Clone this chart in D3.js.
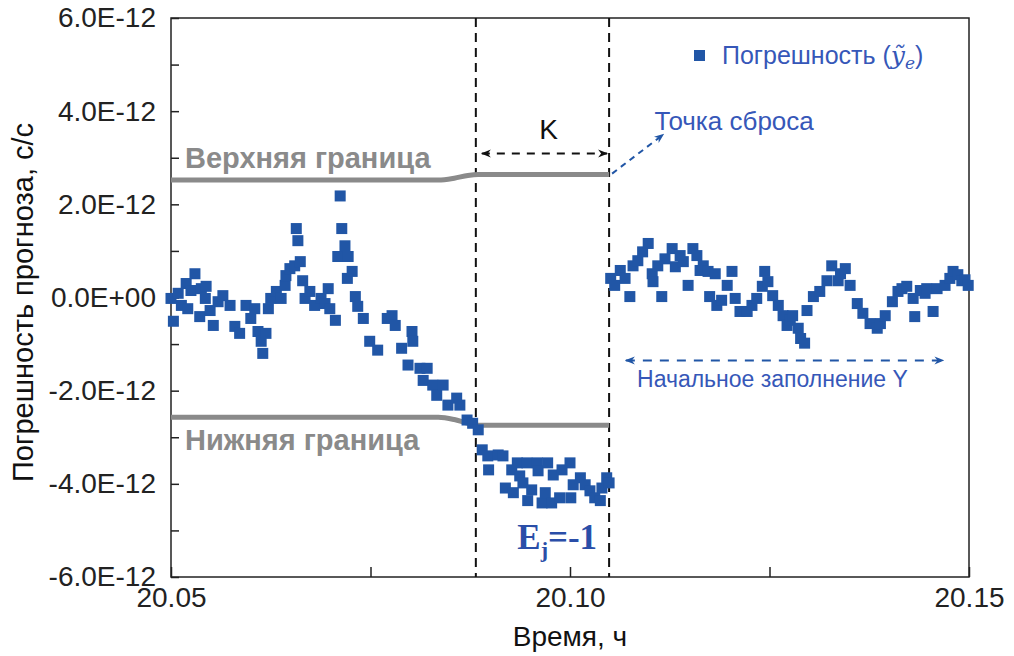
<!DOCTYPE html>
<html lang="ru">
<head>
<meta charset="UTF-8">
<title>Погрешность прогноза</title>
<script src="https://d3js.org/d3.v7.min.js"></script>
<style>
  body { margin: 0; background: #fff; }
  svg { display: block; font-family: "Liberation Sans", Arial, sans-serif; }
  .tick text { font-size: 28px; fill: #222; }
  .tick line { stroke: #222; stroke-width: 1.5; }
  .domain { display: none; }
</style>
</head>
<body>
<svg width="1014" height="656"></svg>
<script>
// error values are in units of 1E-12 s/s
const times = [
  20.0500, 20.0503, 20.0509, 20.0513, 20.0519, 20.0521, 20.0525, 20.0530, 20.0536, 20.0538,
  20.0543, 20.0544, 20.0549, 20.0553, 20.0559, 20.0565, 20.0574, 20.0580, 20.0586, 20.0594,
  20.0600, 20.0605, 20.0609, 20.0613, 20.0615, 20.0619, 20.0622, 20.0625, 20.0632, 20.0638,
  20.0643, 20.0644, 20.0649, 20.0655, 20.0657, 20.0659, 20.0662, 20.0665, 20.0668, 20.0674,
  20.0680, 20.0688, 20.0693, 20.0697, 20.0699, 20.0706, 20.0709, 20.0712, 20.0714, 20.0718,
  20.0721, 20.0722, 20.0727, 20.0731, 20.0734, 20.0741, 20.0749, 20.0759, 20.0771, 20.0777,
  20.0781, 20.0789, 20.0797, 20.0802, 20.0803, 20.0812, 20.0816, 20.0821, 20.0828, 20.0833,
  20.0841, 20.0847, 20.0858, 20.0862, 20.0871, 20.0878, 20.0885,
  // window K
  20.0890, 20.0897, 20.0898, 20.0910, 20.0916, 20.0919, 20.0927, 20.0929, 20.0934, 20.0937,
  20.0941, 20.0946, 20.0947, 20.0952, 20.0959, 20.0960, 20.0965, 20.0969, 20.0972, 20.0977,
  20.0979, 20.0987, 20.0990, 20.1000, 20.1001, 20.1004, 20.1013, 20.1019, 20.1025, 20.1031,
  20.1038, 20.1040, 20.1046, 20.1049,
  // after reset
  20.1051, 20.1056, 20.1063, 20.1069, 20.1075, 20.1079, 20.1085, 20.1091, 20.1098, 20.1103,
  20.1104, 20.1110, 20.1115, 20.1119, 20.1128, 20.1132, 20.1138, 20.1142, 20.1148, 20.1154,
  20.1159, 20.1163, 20.1167, 20.1173, 20.1175, 20.1182, 20.1184, 20.1190, 20.1197, 20.1203,
  20.1207, 20.1213, 20.1222, 20.1228, 20.1234, 20.1241, 20.1244, 20.1248, 20.1254, 20.1261,
  20.1267, 20.1272, 20.1276, 20.1279, 20.1286, 20.1289, 20.1294, 20.1297, 20.1305, 20.1313,
  20.1322, 20.1328, 20.1336, 20.1339, 20.1345, 20.1351, 20.1360, 20.1367, 20.1376, 20.1385,
  20.1389, 20.1395, 20.1404, 20.1411, 20.1416, 20.1422, 20.1430, 20.1432, 20.1439, 20.1445,
  20.1447, 20.1455, 20.1460, 20.1470, 20.1476, 20.1480, 20.1486, 20.1491, 20.1495, 20.1499
];
const errors = [
  -0.02, -0.51, 0.09, -0.17, 0.30, -0.24, 0.15, 0.51, -0.41, 0.19,
  -0.02, 0.24, -0.28, -0.60, -0.09, 0.04, -0.17, -0.62, -0.77, -0.17,
  -0.45, -0.24, -0.73, -0.94, -1.20, -0.77, -0.24, -0.02, 0.13, -0.02,
  0.26, 0.47, 0.62, 0.68, 1.48, 1.22, 0.77, 0.36, -0.02, 0.13,
  -0.17, -0.02, -0.13, 0.19, -0.24, -0.49, 0.88, 2.18, 1.48, 1.11,
  0.41, 0.88, 0.56, 0.02, -0.19, -0.45, -0.94, -1.13, -0.45, -0.39,
  -0.60, -1.09, -1.45, -0.73, -0.94, -1.52, -1.78, -1.52, -1.88, -2.10,
  -1.88, -2.31, -2.16, -2.31, -2.63, -2.70, -2.84,
  -3.27, -3.40, -3.70, -3.38, -3.40, -4.09, -3.70, -4.19, -3.55, -3.83,
  -3.98, -3.55, -4.36, -4.13, -3.55, -3.72, -4.41, -4.19, -3.55, -4.41,
  -3.81, -4.30, -3.70, -3.55, -4.30, -4.02, -3.87, -4.02, -4.15, -4.30,
  -4.36, -4.09, -3.87, -3.98,
  0.41, 0.26, 0.58, 0.41, 0.02, 0.68, 0.79, 0.98, 1.16, 0.51,
  0.34, 0.68, 0.02, 0.83, 1.05, 0.66, 0.90, 0.77, 0.26, 1.05,
  0.90, 0.58, 0.68, 0.56, 0.02, 0.51, -0.17, -0.06, 0.26, 0.56,
  -0.02, -0.30, -0.30, -0.17, -0.02, 0.24, 0.56, 0.34, 0.04, -0.17,
  -0.39, -0.60, -0.49, -0.39, -0.66, -0.88, -0.98, -0.28, 0.02, 0.13,
  0.36, 0.68, 0.36, 0.51, 0.62, 0.26, -0.13, -0.34, -0.56, -0.66,
  -0.56, -0.39, -0.09, 0.13, 0.19, 0.24, -0.02, -0.41, 0.15, 0.09,
  0.19, -0.30, 0.19, 0.26, 0.41, 0.56, 0.49, 0.36, 0.38, 0.26
];

// control limits
const boundTimes = [20.05, 20.0835, 20.0855, 20.0872, 20.0885, 20.1049];
const upperBound = [2.52, 2.52, 2.56, 2.62, 2.64, 2.64];
const lowerBound = [-2.57, -2.57, -2.62, -2.70, -2.74, -2.74];

const kStart = 20.0882, resetTime = 20.1049;
const xTicks = [20.05, 20.10, 20.15];
const xMinor = [20.075, 20.125];
const yTicks = [-6, -4, -2, 0, 2, 4, 6];
const yMinor = [-5, -3, -1, 1, 3, 5];

const blue = "#2156a6", grey = "#8a8a8a", textBlue = "#3657b8";

const svg = d3.select("svg"),
      margin = { top: 18, right: 45, bottom: 79, left: 171 },
      width = +svg.attr("width") - margin.left - margin.right,
      height = +svg.attr("height") - margin.top - margin.bottom,
      g = svg.append("g").attr("transform", `translate(${margin.left},${margin.top})`);

const x = d3.scaleLinear().domain([20.05, 20.15]).range([0, width]);
const y = d3.scaleLinear().domain([-6, 6]).range([height, 0]);

const fmtY = d => d === 0 ? "0.0E+00" : (d < 0 ? "-" : "") + Math.abs(d).toFixed(1) + "E-12";

// axes, ticks pointing inward
g.append("g")
    .attr("transform", `translate(0,${height})`)
    .call(d3.axisBottom(x).tickValues(xTicks).tickSize(-10).tickPadding(10).tickFormat(d3.format(".2f")));
g.append("g")
    .attr("transform", `translate(0,${height})`)
    .call(d3.axisBottom(x).tickValues(xMinor).tickSize(-10).tickFormat(""));
g.append("g")
    .call(d3.axisLeft(y).tickValues(yTicks).tickSize(-8).tickPadding(15).tickFormat(fmtY));
g.append("g")
    .call(d3.axisLeft(y).tickValues(yMinor).tickSize(-8).tickFormat(""));

g.append("rect")
    .attr("width", width).attr("height", height)
    .attr("fill", "none").attr("stroke", "#222").attr("stroke-width", 1.5);

// dashed verticals
g.selectAll(".vline")
    .data([kStart, resetTime])
    .enter().append("line")
    .attr("x1", d => x(d)).attr("x2", d => x(d))
    .attr("y1", 0).attr("y2", height)
    .attr("stroke", "#111").attr("stroke-width", 2)
    .attr("stroke-dasharray", "9,6");

// bounds
const boundLine = vals => d3.line()
    .x((d, i) => x(boundTimes[i]))
    .y(d => y(d))
    .curve(d3.curveMonotoneX)(vals);
[upperBound, lowerBound].forEach(vals => {
  g.append("path").attr("d", boundLine(vals))
      .attr("fill", "none").attr("stroke", grey).attr("stroke-width", 5);
});

// points
const pts = times.map((t, i) => ({ t, e: errors[i] }));
const sz = 11;
g.selectAll(".pt")
    .data(pts)
    .enter().append("rect")
    .attr("x", d => x(d.t) - sz / 2)
    .attr("y", d => y(d.e) - sz / 2)
    .attr("width", sz).attr("height", sz)
    .attr("fill", blue);

// arrow markers
const defs = svg.append("defs");
function marker(id, color) {
  defs.append("marker").attr("id", id)
      .attr("viewBox", "0 0 10 10").attr("refX", 9).attr("refY", 5)
      .attr("markerWidth", 5).attr("markerHeight", 5).attr("orient", "auto-start-reverse")
      .attr("markerUnits", "strokeWidth")
      .append("path").attr("d", "M0,1 L10,5 L0,9 L3,5 Z").attr("fill", color);
}
marker("arrK", "#111");
marker("arrB", blue);

// K span arrow
g.append("line")
    .attr("x1", x(kStart) + 6).attr("x2", x(resetTime) - 2)
    .attr("y1", y(3.09)).attr("y2", y(3.09))
    .attr("stroke", "#111").attr("stroke-width", 2).attr("stroke-dasharray", "8,7")
    .attr("marker-start", "url(#arrK)").attr("marker-end", "url(#arrK)");
g.append("text")
    .attr("x", (x(kStart) + x(resetTime)) / 2 + 6).attr("y", y(3.4))
    .attr("text-anchor", "middle").attr("font-size", 28).attr("fill", "#111").text("K");

// reset arrow
g.append("line")
    .attr("x1", x(resetTime) + 3).attr("y1", y(2.66))
    .attr("x2", x(20.1117)).attr("y2", y(3.5))
    .attr("stroke", blue).attr("stroke-width", 2).attr("stroke-dasharray", "6,5")
    .attr("marker-end", "url(#arrB)");
g.append("text")
    .attr("x", x(20.1106)).attr("y", y(3.6))
    .attr("font-size", 26).attr("fill", textBlue).text("Точка сброса");

// bound labels
g.append("text").attr("x", 14).attr("y", y(2.77))
    .attr("font-size", 29).attr("font-weight", "bold").attr("fill", grey).text("Верхняя граница");
g.append("text").attr("x", 14).attr("y", y(-3.27))
    .attr("font-size", 29).attr("font-weight", "bold").attr("fill", grey).text("Нижняя граница");

// initial fill span
g.append("line")
    .attr("x1", x(20.1070)).attr("x2", x(20.1468))
    .attr("y1", y(-1.35)).attr("y2", y(-1.35))
    .attr("stroke", blue).attr("stroke-width", 2).attr("stroke-dasharray", "9,8")
    .attr("marker-start", "url(#arrB)").attr("marker-end", "url(#arrB)");
g.append("text")
    .attr("x", x(20.1084)).attr("y", y(-1.93))
    .attr("font-size", 23).attr("fill", textBlue).text("Начальное заполнение Y");

// E_j = -1
const ej = g.append("text")
    .attr("x", x(20.0934)).attr("y", y(-5.4))
    .attr("font-family", "'Liberation Serif', 'Times New Roman', serif")
    .attr("font-size", 35).attr("font-weight", "bold").attr("fill", "#2a4ea8");
ej.append("tspan").text("E");
ej.append("tspan").attr("dy", 8).attr("font-size", 22).text("j");
ej.append("tspan").attr("dy", -8).text("=-1");

// legend
g.append("rect")
    .attr("x", 523).attr("y", 32).attr("width", 11).attr("height", 11).attr("fill", blue);
const leg = g.append("text")
    .attr("x", 551).attr("y", 46).attr("font-size", 25).attr("fill", textBlue);
leg.append("tspan").text("Погрешность (");
leg.append("tspan").attr("font-family", "'DejaVu Serif', serif").attr("font-style", "italic").text("ỹ");
leg.append("tspan").attr("font-family", "'DejaVu Serif', serif").attr("font-style", "italic")
    .attr("font-size", 17).attr("dy", 5).text("e");
leg.append("tspan").attr("dy", -5).text(")");

// axis titles
svg.append("text")
    .attr("transform", `translate(33,${margin.top + height / 2 + 5}) rotate(-90)`)
    .attr("text-anchor", "middle")
    .attr("font-family", "'Liberation Sans Narrow', 'Liberation Sans', sans-serif")
    .attr("font-size", 29).attr("fill", "#111")
    .text("Погрешность прогноза, с/с");
svg.append("text")
    .attr("x", margin.left + width / 2).attr("y", 646)
    .attr("text-anchor", "middle")
    .attr("font-family", "'Liberation Sans Narrow', 'Liberation Sans', sans-serif")
    .attr("font-size", 28).attr("fill", "#111")
    .text("Время, ч");
</script>
</body>
</html>
